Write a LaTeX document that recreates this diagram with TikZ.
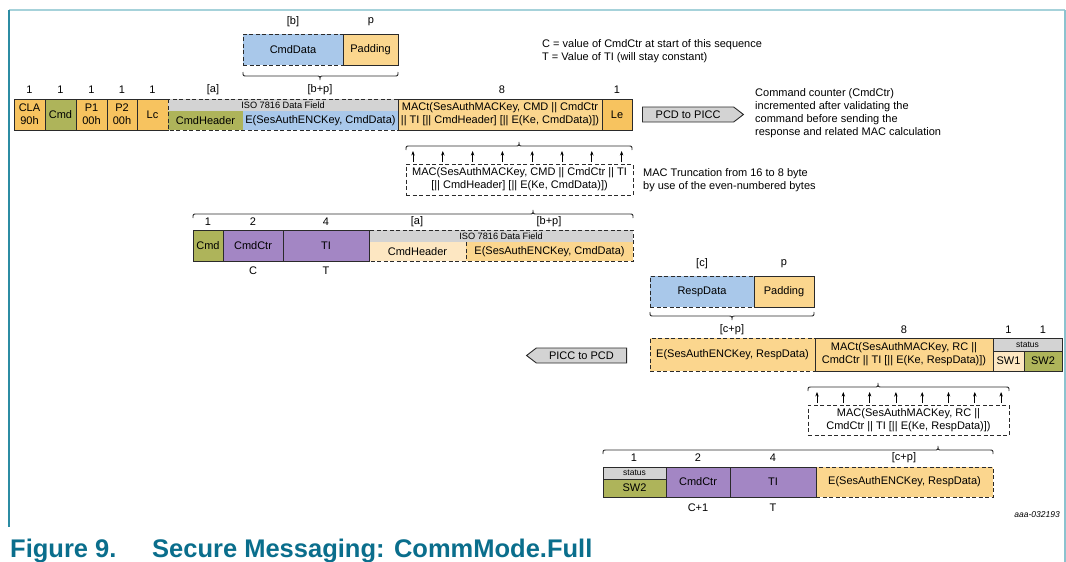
\documentclass[tikz,border=0pt]{standalone}
\usepackage{fontspec}
\setmainfont{Liberation Sans}
\usetikzlibrary{shapes.symbols,arrows.meta}
\definecolor{cOr}{HTML}{F7C35F}
\definecolor{cLo}{HTML}{FBD68E}
\definecolor{cPale}{HTML}{FDE7C2}
\definecolor{cOl}{HTML}{AEB45A}
\definecolor{cBl}{HTML}{A9C8EA}
\definecolor{cPu}{HTML}{A386C4}
\definecolor{cGr}{HTML}{D3D3D3}
\definecolor{cFr}{HTML}{A6D2DA}
\definecolor{cFrR}{HTML}{8CC3CF}
\definecolor{cFrD}{HTML}{2C8CA3}
\definecolor{cCap}{HTML}{0A6E8C}
\definecolor{cLn}{HTML}{2A2A2A}
\newcommand\fsm{\fontsize{11}{12.8}\selectfont}
\newcommand\fss{\fontsize{9.2}{10}\selectfont}
\newcommand\fst{\fontsize{8.5}{9}\selectfont}
\newcommand\bracedn[4]{\draw[brc] (#1,#4-4) .. controls (#1,#4) .. (#1+4,#4) -- (#3-4,#4) .. controls (#3,#4) .. (#3,#4+4) .. controls (#3,#4) .. (#3+4,#4) -- (#2-4,#4) .. controls (#2,#4) .. (#2,#4-4);}
\newcommand\braceup[4]{\draw[brc] (#1,#4+4) .. controls (#1,#4) .. (#1+4,#4) -- (#3-4,#4) .. controls (#3,#4) .. (#3,#4-4) .. controls (#3,#4) .. (#3+4,#4) -- (#2-4,#4) .. controls (#2,#4) .. (#2,#4+4);}
\begin{document}
\begin{tikzpicture}[x=1pt,y=-1pt,
  wh/.style 2 args={minimum width=#1pt, minimum height=#2pt},
  bx/.style={draw=cLn, line width=0.9pt, inner sep=0pt, outer sep=0pt, anchor=north west, align=center, font=\fsm},
  fl/.style={inner sep=0pt, outer sep=0pt, anchor=north west, align=center, font=\fsm},
  dsh/.style={dash pattern=on 4pt off 2.5pt},
  lbl/.style={inner sep=0pt, font=\fsm},
  txt/.style={inner sep=0pt, anchor=north west, align=left, font=\fontsize{11}{13}\selectfont},
  uparr/.style={-{Stealth[length=4.5pt,width=3.4pt]}, line width=0.8pt, draw=black},
  brc/.style={draw=cLn, line width=0.9pt},
  sig/.style={signal, draw=cLn, fill=cGr, line width=0.9pt, signal pointer angle=75, inner sep=0pt, minimum height=15pt, font=\fsm},
]
\useasboundingbox (0,0) rectangle (1066,562);
% frame
\draw[cFr, line width=1.3pt] (9,10) -- (1065,10);
\draw[cFrD, line width=1.3pt] (9,10) -- (9,527);
\draw[cFrR, line width=1.3pt] (1065,10) -- (1065,562);

% ---------- top: CmdData / Padding ----------
\node[lbl] (lb) at (293,22) {[b]};
\node[lbl] (lp) at (371,22) {p};
\node[bx, dsh, fill=cBl, wh={100}{31}] (cmddata) at (243,34) {CmdData};
\node[bx, fill=cLo, wh={55}{31}] (pad1) at (343,34) {Padding};
\bracedn{243}{398}{320}{76}
\node[txt] (leg) at (542,39) {C = value of CmdCtr at start of this sequence\\T = Value of TI (will stay constant)};

% ---------- row 1 ----------
\node[lbl] (n1) at (29.5,90) {1};
\node[lbl] (n2) at (60.5,90) {1};
\node[lbl] (n3) at (91.5,90) {1};
\node[lbl] (n4) at (122,90) {1};
\node[lbl] (n5) at (152.5,90) {1};
\node[lbl] (na) at (213,90) {[a]};
\node[lbl] (nbp) at (320,90) {[b+p]};
\node[lbl] (n8) at (502,90) {8};
\node[lbl] (n9) at (617,90) {1};
\node[bx, fill=cOr, wh={31}{31}] (cla) at (14,99) {CLA\\90h};
\node[bx, fill=cOl, wh={31}{31}] (cmd1) at (45,99) {Cmd};
\node[bx, fill=cOr, wh={31}{31}] (p1) at (76,99) {P1\\00h};
\node[bx, fill=cOr, wh={30}{31}] (p2) at (107,99) {P2\\00h};
\node[bx, fill=cOr, wh={31}{31}] (lc) at (137,99) {Lc};
\node[fl, fill=cGr, wh={230}{12}, font=\fss] (iso1) at (168,99) {ISO 7816 Data Field};
\node[fl, fill=cOl, wh={75}{19}] (ch1) at (168,111) {CmdHeader};
\node[fl, fill=cBl, wh={155}{19}] (e1) at (243,111) {E(SesAuthENCKey, CmdData)};
\draw[brc, dsh] (iso1.north west) rectangle (e1.south east);
\node[bx, fill=cLo, wh={204}{31}] (mact1) at (398,99) {MACt(SesAuthMACKey, CMD || CmdCtr\\|| TI [|| CmdHeader] [|| E(Ke, CmdData)])};
\node[bx, fill=cOr, wh={30}{31}] (le) at (602,99) {Le};
\node[sig, signal to=east, minimum width=101pt, anchor=west] (pcd) at (642,114.5) {PCD to PICC};
\node[txt] (cc) at (755,88) {Command counter (CmdCtr)\\incremented after validating the\\command before sending the\\response and related MAC calculation};

% ---------- MAC 1 ----------
\braceup{406}{632}{519}{146}
\foreach \i in {0,...,7} \draw[uparr] ({413+\i*29.8},162) -- ({413+\i*29.8},151);
\node[bx, dsh, fill=white, wh={227}{31}] (mac1) at (406,164) {MAC(SesAuthMACKey, CMD || CmdCtr || TI\\{}[|| CmdHeader] [|| E(Ke, CmdData)])};
\node[txt] (trunc) at (643,168) {MAC Truncation from 16 to 8 byte\\by use of the even-numbered bytes};

% ---------- row 2 ----------
\braceup{193}{633}{533}{214}
\node[lbl] (m1) at (208,222) {1};
\node[lbl] (m2) at (253,222) {2};
\node[lbl] (m3) at (326,222) {4};
\node[lbl] (ma) at (417,222) {[a]};
\node[lbl] (mbp) at (549,222) {[b+p]};
\node[fl, fill=cGr, wh={264}{12}, font=\fss] (iso2) at (369,230) {ISO 7816 Data Field};
\node[fl, fill=cPale, wh={97}{19}] (ch2) at (369,242) {CmdHeader};
\node[fl, fill=cLo, wh={167}{19}] (e2) at (466,242) {E(SesAuthENCKey, CmdData)};
\draw[brc, dsh] (iso2.north west) rectangle (e2.south east);
\draw[brc, dsh] (e2.north west) -- (e2.south west);
\node[bx, fill=cOl, wh={30}{31}] (cmd2) at (193,230) {Cmd};
\node[bx, fill=cPu, wh={60}{31}] (ctr2) at (223,230) {CmdCtr};
\node[bx, fill=cPu, wh={86}{31}] (ti2) at (283,230) {TI};
\node[lbl] (vc) at (253,271) {C};
\node[lbl] (vt) at (326,271) {T};

% ---------- RespData / Padding ----------
\node[lbl] (lc2) at (702,264) {[c]};
\node[lbl] (lp2) at (784,264) {p};
\node[bx, dsh, fill=cBl, wh={104}{31}] (resp) at (650,276) {RespData};
\node[bx, fill=cLo, wh={60}{31}] (pad2) at (754,276) {Padding};
\bracedn{650}{814}{732}{316}

% ---------- row 3 ----------
\node[lbl] (k1) at (732,330) {[c+p]};
\node[lbl] (k2) at (904,330) {8};
\node[lbl] (k3) at (1008.5,330) {1};
\node[lbl] (k4) at (1043,330) {1};
\node[sig, signal to=west, minimum width=100pt, anchor=east] (picc) at (627,355.5) {PICC to PCD};
\node[bx, dsh, fill=cLo, wh={165}{33}] (e3) at (650,338) {E(SesAuthENCKey, RespData)};
\node[bx, fill=cLo, wh={178}{33}] (mact2) at (815,338) {MACt(SesAuthMACKey, RC ||\\CmdCtr || TI [|| E(Ke, RespData)])};
\node[bx, fill=cGr, wh={69}{13}, font=\fst] (st1) at (993,338) {status};
\node[bx, fill=cPale, wh={31}{20}] (sw1) at (993,351) {SW1};
\node[bx, fill=cOl, wh={38}{20}] (sw2) at (1024,351) {SW2};

% ---------- MAC 2 ----------
\braceup{808}{1009}{878}{387}
\foreach \i in {0,...,7} \draw[uparr] ({817+\i*26.3},403) -- ({817+\i*26.3},392);
\node[bx, dsh, fill=white, wh={201}{30}] (mac2) at (808,405) {MAC(SesAuthMACKey, RC ||\\CmdCtr || TI [|| E(Ke, RespData)])};

% ---------- row 4 ----------
\braceup{603}{993}{938}{450}
\node[lbl] (j1) at (634,458) {1};
\node[lbl] (j2) at (698,458) {2};
\node[lbl] (j3) at (773,458) {4};
\node[lbl] (j4) at (904,458) {[c+p]};
\node[bx, dsh, fill=cLo, wh={177}{30}] (e4) at (816,467) {E(SesAuthENCKey, RespData)};
\node[bx, fill=cGr, wh={63}{12}, font=\fst] (st2) at (603,467) {status};
\node[bx, fill=cOl, wh={63}{18}] (sw2b) at (603,479) {SW2};
\node[bx, fill=cPu, wh={64}{30}] (ctr3) at (666,467) {CmdCtr};
\node[bx, fill=cPu, wh={86}{30}] (ti3) at (730,467) {TI};
\node[lbl] (wc) at (698,508) {C+1};
\node[lbl] (wt) at (773,508) {T};
\node[inner sep=0pt, anchor=east, font=\itshape\fontsize{8.5}{9}\selectfont] (code) at (1060,515) {aaa-032193};

% ---------- caption ----------
\node[inner sep=0pt, anchor=base west, text=cCap, font=\bfseries\fontsize{25.5}{27}\selectfont] (capa) at (10,557) {Figure 9.};
\node[inner sep=0pt, anchor=base west, text=cCap, font=\bfseries\fontsize{25.5}{27}\selectfont] (capb) at (152,557) {Secure Messaging: CommMode.Full};
\end{tikzpicture}
\end{document}
